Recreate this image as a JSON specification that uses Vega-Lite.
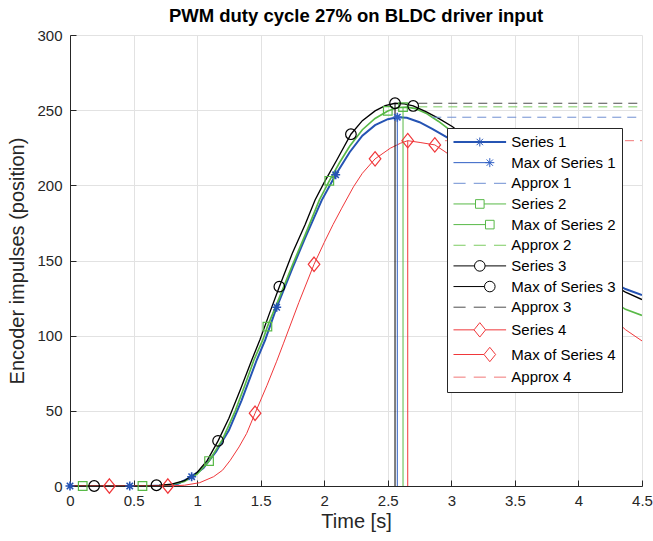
{
  "$schema": "https://vega.github.io/schema/vega-lite/v6.json",
  "width": 572,
  "height": 451,
  "autosize": {"type": "none"},
  "padding": {"left": 70, "top": 35, "right": 11, "bottom": 55},
  "background": "white",
  "title": {"text": "PWM duty cycle 27% on BLDC driver input", "font": "Liberation Sans", "fontSize": 18.5, "fontWeight": "bold", "color": "#000000", "anchor": "middle", "frame": "group", "offset": 3},
  "config": {
    "view": {"stroke": null},
    "axis": {"labelFont": "Liberation Sans", "titleFont": "Liberation Sans", "labelFontSize": 15, "titleFontSize": 20, "titleFontWeight": "normal", "labelColor": "#262626", "titleColor": "#262626", "domainColor": "#262626", "tickColor": "#262626", "gridColor": "#e2e2e2", "gridOpacity": 1, "gridWidth": 1, "tickSize": -6, "domainWidth": 1, "tickWidth": 1, "labelFlush": false}
  },
  "datasets": {
    "curves": [
      {"k": "Series 1", "t": 0, "v": 0}, {"k": "Series 1", "t": 0.3, "v": 0}, {"k": "Series 1", "t": 0.6, "v": 0}, {"k": "Series 1", "t": 0.75, "v": 0.3}, {"k": "Series 1", "t": 0.85, "v": 1.5}, {"k": "Series 1", "t": 0.957, "v": 6.2}, {"k": "Series 1", "t": 1.05, "v": 12}, {"k": "Series 1", "t": 1.15, "v": 23}, {"k": "Series 1", "t": 1.25, "v": 37}, {"k": "Series 1", "t": 1.35, "v": 57}, {"k": "Series 1", "t": 1.469, "v": 83.8}, {"k": "Series 1", "t": 1.535, "v": 97}, {"k": "Series 1", "t": 1.626, "v": 118.9}, {"k": "Series 1", "t": 1.75, "v": 145}, {"k": "Series 1", "t": 1.85, "v": 165}, {"k": "Series 1", "t": 1.98, "v": 190}, {"k": "Series 1", "t": 2.09, "v": 207}, {"k": "Series 1", "t": 2.2, "v": 222}, {"k": "Series 1", "t": 2.3, "v": 233}, {"k": "Series 1", "t": 2.4, "v": 240}, {"k": "Series 1", "t": 2.5, "v": 244}, {"k": "Series 1", "t": 2.575, "v": 245.3}, {"k": "Series 1", "t": 2.65, "v": 245}, {"k": "Series 1", "t": 2.75, "v": 242}, {"k": "Series 1", "t": 2.85, "v": 237.5}, {"k": "Series 1", "t": 2.99, "v": 230.7}, {"k": "Series 1", "t": 3.2, "v": 218}, {"k": "Series 1", "t": 3.4, "v": 202}, {"k": "Series 1", "t": 3.6, "v": 184}, {"k": "Series 1", "t": 3.8, "v": 165}, {"k": "Series 1", "t": 4.0, "v": 150}, {"k": "Series 1", "t": 4.2, "v": 139}, {"k": "Series 1", "t": 4.37, "v": 131}, {"k": "Series 1", "t": 4.5, "v": 127},
      {"k": "Series 2", "t": 0, "v": 0}, {"k": "Series 2", "t": 0.3, "v": 0}, {"k": "Series 2", "t": 0.6, "v": 0}, {"k": "Series 2", "t": 0.7, "v": 0.3}, {"k": "Series 2", "t": 0.8, "v": 1}, {"k": "Series 2", "t": 0.9, "v": 3}, {"k": "Series 2", "t": 1.0, "v": 8}, {"k": "Series 2", "t": 1.094, "v": 16.6}, {"k": "Series 2", "t": 1.2, "v": 31}, {"k": "Series 2", "t": 1.3, "v": 50}, {"k": "Series 2", "t": 1.38, "v": 68}, {"k": "Series 2", "t": 1.447, "v": 83.8}, {"k": "Series 2", "t": 1.516, "v": 97}, {"k": "Series 2", "t": 1.553, "v": 106}, {"k": "Series 2", "t": 1.65, "v": 126}, {"k": "Series 2", "t": 1.75, "v": 147}, {"k": "Series 2", "t": 1.85, "v": 167}, {"k": "Series 2", "t": 1.962, "v": 190.3}, {"k": "Series 2", "t": 2.04, "v": 203}, {"k": "Series 2", "t": 2.12, "v": 215}, {"k": "Series 2", "t": 2.2, "v": 226}, {"k": "Series 2", "t": 2.3, "v": 237}, {"k": "Series 2", "t": 2.4, "v": 244.5}, {"k": "Series 2", "t": 2.5, "v": 249.5}, {"k": "Series 2", "t": 2.58, "v": 251.8}, {"k": "Series 2", "t": 2.65, "v": 252}, {"k": "Series 2", "t": 2.72, "v": 251}, {"k": "Series 2", "t": 2.8, "v": 248}, {"k": "Series 2", "t": 2.9, "v": 242.5}, {"k": "Series 2", "t": 3.0, "v": 236}, {"k": "Series 2", "t": 3.2, "v": 221}, {"k": "Series 2", "t": 3.4, "v": 202}, {"k": "Series 2", "t": 3.6, "v": 180}, {"k": "Series 2", "t": 3.8, "v": 158}, {"k": "Series 2", "t": 4.0, "v": 140}, {"k": "Series 2", "t": 4.2, "v": 127}, {"k": "Series 2", "t": 4.37, "v": 117.5}, {"k": "Series 2", "t": 4.5, "v": 113.5},
      {"k": "Series 3", "t": 0, "v": 0}, {"k": "Series 3", "t": 0.3, "v": 0}, {"k": "Series 3", "t": 0.6, "v": 0}, {"k": "Series 3", "t": 0.7, "v": 0.4}, {"k": "Series 3", "t": 0.8, "v": 1.2}, {"k": "Series 3", "t": 0.9, "v": 3.5}, {"k": "Series 3", "t": 1.0, "v": 9}, {"k": "Series 3", "t": 1.08, "v": 17}, {"k": "Series 3", "t": 1.165, "v": 30}, {"k": "Series 3", "t": 1.25, "v": 45}, {"k": "Series 3", "t": 1.34, "v": 64}, {"k": "Series 3", "t": 1.43, "v": 83.8}, {"k": "Series 3", "t": 1.495, "v": 97.5}, {"k": "Series 3", "t": 1.57, "v": 115}, {"k": "Series 3", "t": 1.647, "v": 132.6}, {"k": "Series 3", "t": 1.75, "v": 155}, {"k": "Series 3", "t": 1.85, "v": 174}, {"k": "Series 3", "t": 1.928, "v": 190.3}, {"k": "Series 3", "t": 2.0, "v": 202}, {"k": "Series 3", "t": 2.1, "v": 217}, {"k": "Series 3", "t": 2.21, "v": 234}, {"k": "Series 3", "t": 2.3, "v": 243}, {"k": "Series 3", "t": 2.4, "v": 249.5}, {"k": "Series 3", "t": 2.48, "v": 253}, {"k": "Series 3", "t": 2.557, "v": 254.6}, {"k": "Series 3", "t": 2.63, "v": 254.2}, {"k": "Series 3", "t": 2.7, "v": 252.8}, {"k": "Series 3", "t": 2.8, "v": 249}, {"k": "Series 3", "t": 2.9, "v": 244.5}, {"k": "Series 3", "t": 3.01, "v": 239}, {"k": "Series 3", "t": 3.2, "v": 226}, {"k": "Series 3", "t": 3.4, "v": 208}, {"k": "Series 3", "t": 3.6, "v": 187}, {"k": "Series 3", "t": 3.8, "v": 166}, {"k": "Series 3", "t": 4.0, "v": 149}, {"k": "Series 3", "t": 4.2, "v": 137}, {"k": "Series 3", "t": 4.37, "v": 129}, {"k": "Series 3", "t": 4.5, "v": 124},
      {"k": "Series 4", "t": 0, "v": 0}, {"k": "Series 4", "t": 0.3, "v": 0}, {"k": "Series 4", "t": 0.6, "v": 0}, {"k": "Series 4", "t": 0.77, "v": 0}, {"k": "Series 4", "t": 0.9, "v": 0.5}, {"k": "Series 4", "t": 1.02, "v": 2.2}, {"k": "Series 4", "t": 1.13, "v": 6.2}, {"k": "Series 4", "t": 1.2, "v": 10.5}, {"k": "Series 4", "t": 1.26, "v": 17}, {"k": "Series 4", "t": 1.33, "v": 26}, {"k": "Series 4", "t": 1.39, "v": 35}, {"k": "Series 4", "t": 1.456, "v": 48.4}, {"k": "Series 4", "t": 1.55, "v": 67}, {"k": "Series 4", "t": 1.626, "v": 83}, {"k": "Series 4", "t": 1.68, "v": 95}, {"k": "Series 4", "t": 1.8, "v": 122}, {"k": "Series 4", "t": 1.92, "v": 147.5}, {"k": "Series 4", "t": 2.0, "v": 162}, {"k": "Series 4", "t": 2.07, "v": 174}, {"k": "Series 4", "t": 2.138, "v": 184.8}, {"k": "Series 4", "t": 2.23, "v": 199}, {"k": "Series 4", "t": 2.3, "v": 208}, {"k": "Series 4", "t": 2.4, "v": 217.6}, {"k": "Series 4", "t": 2.52, "v": 224.7}, {"k": "Series 4", "t": 2.6, "v": 228}, {"k": "Series 4", "t": 2.657, "v": 229.7}, {"k": "Series 4", "t": 2.754, "v": 228.5}, {"k": "Series 4", "t": 2.87, "v": 226.9}, {"k": "Series 4", "t": 2.95, "v": 222.4}, {"k": "Series 4", "t": 3.2, "v": 207}, {"k": "Series 4", "t": 3.4, "v": 190}, {"k": "Series 4", "t": 3.6, "v": 171}, {"k": "Series 4", "t": 3.8, "v": 152}, {"k": "Series 4", "t": 4.0, "v": 135}, {"k": "Series 4", "t": 4.2, "v": 117}, {"k": "Series 4", "t": 4.37, "v": 104}, {"k": "Series 4", "t": 4.5, "v": 96.5}
    ],
    "markers": [
      {"g": 1, "k": "Series 1", "t": 0, "v": 0}, {"g": 1, "k": "Series 1", "t": 0.47, "v": 0}, {"g": 1, "k": "Series 1", "t": 0.957, "v": 6.2}, {"g": 1, "k": "Series 1", "t": 1.626, "v": 118.9}, {"g": 1, "k": "Series 1", "t": 2.09, "v": 207}, {"g": 1, "k": "Max of Series 1", "t": 2.575, "v": 245.3},
      {"g": 2, "k": "Series 2", "t": 0.1, "v": 0}, {"g": 2, "k": "Series 2", "t": 0.57, "v": 0}, {"g": 2, "k": "Series 2", "t": 1.094, "v": 16.6}, {"g": 2, "k": "Series 2", "t": 1.553, "v": 106}, {"g": 2, "k": "Series 2", "t": 2.04, "v": 203}, {"g": 2, "k": "Series 2", "t": 2.5, "v": 249.5}, {"g": 2, "k": "Max of Series 2", "t": 2.62, "v": 252},
      {"g": 3, "k": "Series 3", "t": 0.19, "v": 0}, {"g": 3, "k": "Series 3", "t": 0.68, "v": 0.5}, {"g": 3, "k": "Series 3", "t": 1.165, "v": 30}, {"g": 3, "k": "Series 3", "t": 1.647, "v": 132.6}, {"g": 3, "k": "Series 3", "t": 2.21, "v": 234}, {"g": 3, "k": "Series 3", "t": 2.7, "v": 252.8}, {"g": 3, "k": "Max of Series 3", "t": 2.557, "v": 254.6},
      {"g": 4, "k": "Series 4", "t": 0.31, "v": 0}, {"g": 4, "k": "Series 4", "t": 0.77, "v": 0}, {"g": 4, "k": "Series 4", "t": 1.456, "v": 48.4}, {"g": 4, "k": "Series 4", "t": 1.92, "v": 147.5}, {"g": 4, "k": "Series 4", "t": 2.4, "v": 217.6}, {"g": 4, "k": "Series 4", "t": 2.87, "v": 226.9}, {"g": 4, "k": "Max of Series 4", "t": 2.657, "v": 229.7}
    ],
    "maxlines": [
      {"k": "Max of Series 1", "t": 2.575, "v": 245.3},
      {"k": "Max of Series 2", "t": 2.62, "v": 252},
      {"k": "Max of Series 3", "t": 2.557, "v": 254.6},
      {"k": "Max of Series 4", "t": 2.657, "v": 229.7}
    ],
    "approx": [
      {"k": "Approx 1", "t": 2.85, "t1": 4.5, "v": 245.3},
      {"k": "Approx 2", "t": 2.74, "t1": 4.5, "v": 252.2},
      {"k": "Approx 3", "t": 2.74, "t1": 4.5, "v": 254.6},
      {"k": "Approx 4", "t": 2.95, "t1": 4.5, "v": 229.7}
    ],
    "legend": [
      {"k": "Series 1", "t": -1, "v": -1}, {"k": "Max of Series 1", "t": -1, "v": -1}, {"k": "Approx 1", "t": -1, "v": -1},
      {"k": "Series 2", "t": -1, "v": -1}, {"k": "Max of Series 2", "t": -1, "v": -1}, {"k": "Approx 2", "t": -1, "v": -1},
      {"k": "Series 3", "t": -1, "v": -1}, {"k": "Max of Series 3", "t": -1, "v": -1}, {"k": "Approx 3", "t": -1, "v": -1},
      {"k": "Series 4", "t": -1, "v": -1}, {"k": "Max of Series 4", "t": -1, "v": -1}, {"k": "Approx 4", "t": -1, "v": -1}
    ]
  },
  "layer": [
    {
      "data": {"name": "curves"},
      "mark": {"type": "line", "clip": true},
      "encoding": {
        "x": {"field": "t", "type": "quantitative", "scale": {"domain": [0, 4.5], "nice": false, "zero": false}, "axis": {"title": "Time [s]", "values": [0, 0.5, 1, 1.5, 2, 2.5, 3, 3.5, 4, 4.5], "format": ".1~f", "labelPadding": 13, "titlePadding": 3}},
        "y": {"field": "v", "type": "quantitative", "scale": {"domain": [0, 300], "nice": false}, "axis": {"title": "Encoder impulses (position)", "values": [0, 50, 100, 150, 200, 250, 300], "labelPadding": 14, "titlePadding": 9}},
        "color": {"field": "k", "type": "nominal", "legend": null, "scale": {"domain": ["Approx 1", "Approx 2", "Approx 3", "Approx 4", "Max of Series 1", "Max of Series 2", "Max of Series 3", "Max of Series 4", "Series 1", "Series 2", "Series 3", "Series 4"], "range": ["#6f8fd2", "#7ccc62", "#4d4d4d", "#f27777", "#2f5fc4", "#58b947", "#000000", "#f0373a", "#2553b3", "#58b947", "#000000", "#f0373a"]}},
        "strokeWidth": {"field": "k", "type": "ordinal", "legend": null, "scale": {"domain": ["Series 1", "Series 2", "Series 3", "Series 4"], "range": [2, 1, 1, 1]}}
      }
    },
    {
      "data": {"name": "maxlines"},
      "mark": {"type": "rule", "strokeWidth": 1},
      "encoding": {
        "x": {"field": "t", "type": "quantitative"},
        "y": {"field": "v", "type": "quantitative"},
        "y2": {"datum": 0},
        "color": {"field": "k", "type": "nominal", "legend": null}
      }
    },
    {
      "data": {"name": "approx"},
      "mark": {"type": "rule", "strokeWidth": 1, "strokeDash": [9, 6]},
      "encoding": {
        "x": {"field": "t", "type": "quantitative"},
        "x2": {"field": "t1"},
        "y": {"field": "v", "type": "quantitative"},
        "color": {"field": "k", "type": "nominal", "legend": null}
      }
    },
    {
      "data": {"name": "markers"},
      "transform": [{"filter": "datum.g == 1"}],
      "mark": {"type": "point", "filled": false, "strokeWidth": 1.6, "size": 100, "shape": "M-0.9,0H0.9M0,-0.9V0.9M-0.64,-0.64L0.64,0.64M-0.64,0.64L0.64,-0.64", "opacity": 1},
      "encoding": {
        "x": {"field": "t", "type": "quantitative"},
        "y": {"field": "v", "type": "quantitative"},
        "color": {"field": "k", "type": "nominal", "legend": null}
      }
    },
    {
      "data": {"name": "markers"},
      "transform": [{"filter": "datum.g == 2"}],
      "mark": {"type": "point", "filled": false, "strokeWidth": 1.2, "size": 100, "shape": "M-0.86,-0.86H0.86V0.86H-0.86Z", "opacity": 1},
      "encoding": {
        "x": {"field": "t", "type": "quantitative"},
        "y": {"field": "v", "type": "quantitative"},
        "color": {"field": "k", "type": "nominal", "legend": null}
      }
    },
    {
      "data": {"name": "markers"},
      "transform": [{"filter": "datum.g == 3"}],
      "mark": {"type": "point", "filled": false, "strokeWidth": 1.2, "size": 100, "shape": "M-1.06,0A1.06,1.06,0,1,0,1.06,0A1.06,1.06,0,1,0,-1.06,0", "opacity": 1},
      "encoding": {
        "x": {"field": "t", "type": "quantitative"},
        "y": {"field": "v", "type": "quantitative"},
        "color": {"field": "k", "type": "nominal", "legend": null}
      }
    },
    {
      "data": {"name": "markers"},
      "transform": [{"filter": "datum.g == 4"}],
      "mark": {"type": "point", "filled": false, "strokeWidth": 1.2, "size": 100, "shape": "M0,-1.44L1.16,0L0,1.44L-1.16,0Z", "opacity": 1},
      "encoding": {
        "x": {"field": "t", "type": "quantitative"},
        "y": {"field": "v", "type": "quantitative"},
        "color": {"field": "k", "type": "nominal", "legend": null}
      }
    },
    {
      "data": {"name": "legend"},
      "mark": {"type": "point", "filled": false, "clip": true, "strokeWidth": 1, "size": 225, "opacity": 1},
      "encoding": {
        "x": {"field": "t", "type": "quantitative"},
        "y": {"field": "v", "type": "quantitative"},
        "shape": {"field": "k", "type": "nominal",
          "scale": {"domain": ["Series 1", "Max of Series 1", "Approx 1", "Series 2", "Max of Series 2", "Approx 2", "Series 3", "Max of Series 3", "Approx 3", "Series 4", "Max of Series 4", "Approx 4"],
            "range": [
              "M-3.507,-0.067H3.507M-3.507,0.067H3.507M-0.6,0H0.6M0,-0.6V0.6M-0.424,-0.424L0.424,0.424M-0.424,0.424L0.424,-0.424",
              "M-3.507,0H1.333M0.733,0H1.933M1.333,-0.6V0.6M0.909,-0.424L1.757,0.424M0.909,0.424L1.757,-0.424",
              "M-3.507,0H-1.893M-0.807,0H0.807M1.893,0H3.507",
              "M-3.507,0H-0.573M0.573,0H3.507M-0.573,-0.573H0.573V0.573H-0.573Z",
              "M-3.507,0H0.76M0.76,-0.573H1.906V0.573H0.76Z",
              "M-3.507,0H-1.893M-0.807,0H0.807M1.893,0H3.507",
              "M-3.507,0H-0.707M0.707,0H3.507M-0.707,0A0.707,0.707,0,1,0,0.707,0A0.707,0.707,0,1,0,-0.707,0",
              "M-3.507,0H0.626M0.626,0A0.707,0.707,0,1,0,2.04,0A0.707,0.707,0,1,0,0.626,0",
              "M-3.507,0H-1.893M-0.807,0H0.807M1.893,0H3.507",
              "M-3.507,0H-0.773M0.773,0H3.507M0,-0.96L0.773,0L0,0.96L-0.773,0Z",
              "M-3.507,0H0.56M1.333,-0.96L2.106,0L1.333,0.96L0.56,0Z",
              "M-3.507,0H-1.893M-0.807,0H0.807M1.893,0H3.507"
            ]},
          "legend": {"title": null, "orient": "none", "legendX": 377, "legendY": 93, "fillColor": "white", "strokeColor": "#262626", "padding": 6, "rowPadding": 4.65, "labelFont": "Liberation Sans", "labelFontSize": 15, "labelColor": "#000000", "labelOffset": 23.5, "symbolOffset": 18.8, "symbolSize": 225, "symbolStrokeWidth": 1}
        },
        "stroke": {"field": "k", "type": "nominal",
          "scale": {"domain": ["Series 1", "Max of Series 1", "Approx 1", "Series 2", "Max of Series 2", "Approx 2", "Series 3", "Max of Series 3", "Approx 3", "Series 4", "Max of Series 4", "Approx 4"],
            "range": ["#2553b3", "#2f5fc4", "#6f8fd2", "#58b947", "#58b947", "#7ccc62", "#000000", "#000000", "#4d4d4d", "#f0373a", "#f0373a", "#f27777"]},
          "legend": {"title": null, "orient": "none", "legendX": 377, "legendY": 93, "fillColor": "white", "strokeColor": "#262626", "padding": 6, "rowPadding": 4.65, "labelFont": "Liberation Sans", "labelFontSize": 15, "labelColor": "#000000", "labelOffset": 23.5, "symbolOffset": 18.8, "symbolSize": 225, "symbolStrokeWidth": 1}
        }
      }
    }
  ]
}
